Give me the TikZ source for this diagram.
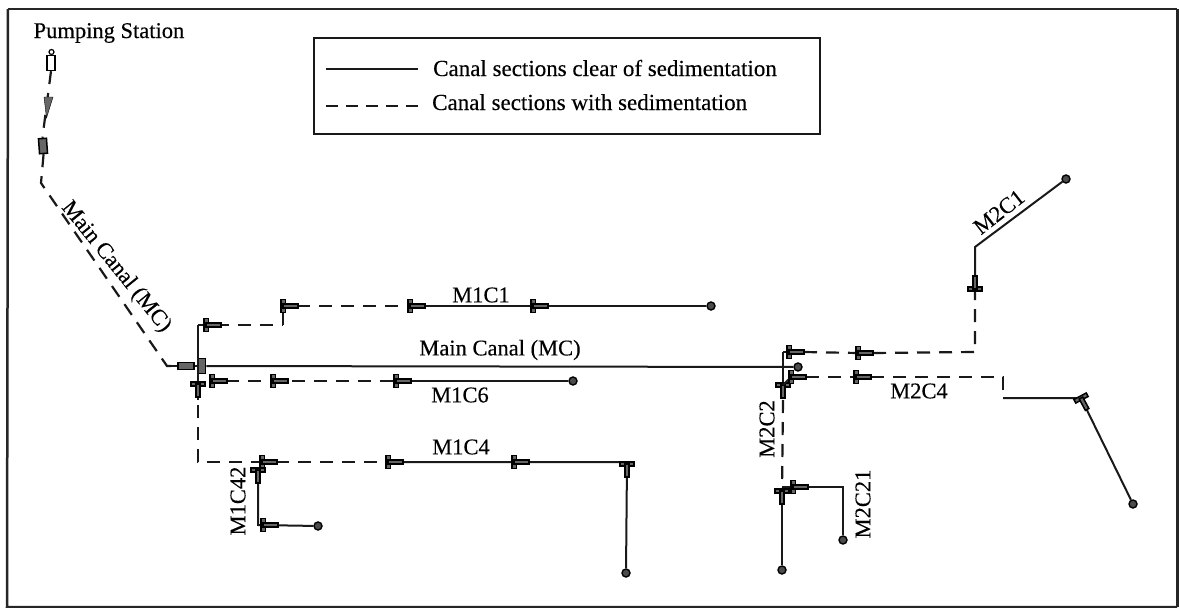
\documentclass[tikz,border=0pt]{standalone}
\usepackage{fontspec}
\setmainfont{Liberation Serif}
\usetikzlibrary{arrows.meta}
\tikzset{
 x=1pt,y=-1pt,
 clear/.style={line width=2pt,black!90,line cap=butt,line join=miter},
 sedi/.style={line width=2.2pt,black!90,dash pattern=on 13pt off 9pt,line join=miter},
 lab/.style={inner sep=0pt,font=\fontsize{22.5}{25}\selectfont\addfontfeature{FakeBold=0.3},text=black},
 legt/.style={inner sep=0pt,anchor=base west,font=\fontsize{23}{26}\selectfont\addfontfeature{FakeBold=0.3},text=black},
 enddot/.style={circle,fill=black!70,draw=black,line width=1.4pt,minimum size=8pt,inner sep=0pt},
 housing/.style={draw=black,line width=1.5pt,fill=black!60},
 gate/.pic={
  \filldraw[housing] (-2,-6.5) rectangle (2.5,6.5);
  \filldraw[housing] (0,-2) rectangle (15,2);
 },
 tgate/.pic={
  \filldraw[housing] (-2,-7) rectangle (2,7);
  \filldraw[housing] (0,-2) rectangle (13,2);
 }
}
\begin{document}
\begin{tikzpicture}
\useasboundingbox (0,0) rectangle (1179,608);
% frame
\draw[line width=2.5pt,black!85] (8,9) -- (1177,9);
\draw[line width=2.5pt,black!85] (8,9) -- (7,607) -- (1177,607);
\draw[line width=3pt,black!85] (1177,9) -- (1177,607);
% legend
\node[draw=black!90,line width=2.2pt,minimum width=506pt,minimum height=96pt,anchor=north west,inner sep=0pt] (legend) at (313,37) {};
\coordinate (la) at (326,69); \coordinate (lb) at (418,69);
\coordinate (lc) at (326,106); \coordinate (ld) at (418,106);
\draw[clear] (la) -- (lb);
\draw[sedi,dash pattern=on 12pt off 8pt] (lc) -- (ld);
\node[legt] (lt1) at (433,76) {Canal sections clear of sedimentation};
\node[legt] (lt2) at (432,110) {Canal sections with sedimentation};
% pumping station
\node[lab] (ps) at (109,33) {Pumping Station};
\node[draw=black,line width=1.2pt,minimum size=5pt,circle,inner sep=0pt] (pscirc) at (51.5,52) {};
\node[draw=black,line width=1.4pt,fill=white,minimum width=8pt,minimum height=15pt,inner sep=0pt] (psbox) at (51,63) {};
\coordinate (mc0) at (41,183); \coordinate (mc1) at (167,366);
\node[housing,minimum width=8pt,minimum height=15pt,inner sep=0pt,rotate=4] (mcg0) at (43,146) {};
\draw[sedi] (psbox.south) -- (mcg0.north);
\filldraw[fill=black!60,draw=black] (44,97) -- (53,97) -- (46.5,118) -- cycle;
\draw[sedi] (mcg0.south) -- (mc0) -- (mc1) -- (178,366);
\node[housing,minimum width=16pt,minimum height=7pt,inner sep=0pt] (mcg1) at (186,366) {};
\node[housing,minimum width=7pt,minimum height=15pt,inner sep=0pt] (mcg2) at (202,366) {};
\draw[clear] (mc1) -- (mcg1.west);
\draw[clear] (mcg1.east) -- (mcg2.west);
% main canal
\node[enddot] (mcend) at (798,367) {};
\draw[clear] (mcg2.east) -- (mcend);
\node[lab,rotate=-51] (lmc1) at (116,267) {Main Canal (MC)};
\node[lab] (lmc2) at (500,350) {Main Canal (MC)};
% M1C1
\coordinate (j1) at (198,366); \coordinate (a0) at (198,325); \coordinate (a1) at (206,325);
\coordinate (a2) at (283,325); \coordinate (a3) at (283,306); \coordinate (a4) at (410,306); \coordinate (a5) at (533,306);
\node[enddot] (a6) at (711,306) {};
\draw[clear] (a0) -- (j1); \draw[clear] (a0) -- (a1);
\draw[sedi] (a1) ++(10,0) -- (a2);
\draw[clear] (a2) -- (a3);
\draw[sedi] (a3) ++(14,0) -- (a4);
\draw[clear] (a4) -- (a5) -- (a6);
\foreach \p in {a1,a3,a4,a5}{\pic at (\p) {gate};}
\node[lab] (l1) at (481,295) {M1C1};
% M1C6
\coordinate (b0) at (198,384); \coordinate (b1) at (212,381); \coordinate (b2) at (273,381); \coordinate (b3) at (396,381);
\node[enddot] (b4) at (573,381) {};
\draw[clear] (j1) -- (b0);
\draw[sedi] (b1) ++(14,0) -- (b3);
\draw[clear] (b3) -- (b4);
\foreach \p in {b1,b2,b3}{\pic at (\p) {gate};}
\node[lab] (l2) at (460,395) {M1C6};
% M1C4
\coordinate (c0) at (198,462); \coordinate (c1) at (262,462); \coordinate (c2) at (388,462); \coordinate (c3) at (514,462); \coordinate (c4) at (627,464);
\node[enddot] (c5) at (626,573) {};
\draw[clear] (b0) -- (198,400);
\draw[sedi] (198,405) -- (c0) -- (c1);
\draw[sedi] (c1) ++(14,0) -- (c2);
\draw[clear] (c2) -- (627,462) -- (c5);
\pic[rotate=-90] at (b0) {tgate};
\pic at (c1) {gate}; \pic at (c2) {gate}; \pic at (c3) {gate};
\pic[rotate=-90] at (c4) {tgate};
\node[lab] (l3) at (461,447) {M1C4};
% M1C42
\coordinate (e0) at (258,470); \coordinate (e1) at (258,525); \coordinate (e2) at (263,525);
\node[enddot] (e3) at (318,526) {};
\draw[clear] (e0) -- (e1) -- (e3);
\pic[rotate=-90] at (e0) {tgate};
\pic at (e2) {gate};
\node[lab,rotate=90] (l4) at (238,501) {M1C42};
% M2C2
\coordinate (f0) at (783,352); \coordinate (f1) at (783,385); \coordinate (f2) at (782,491);
\node[enddot] (f3) at (782,570) {};
\draw[clear] (f0) -- (f1);
\draw[sedi] (783,400) -- (f2);
\draw[line width=2.6pt,black!90] (f2) -- (f3);
\pic[rotate=-90] at (f1) {tgate};
\pic[rotate=-90] at (f2) {tgate};
\node[lab,rotate=90] (l5) at (767,429) {M2C2};
% M2C21
\coordinate (h0) at (793,487); \coordinate (h1) at (843,487);
\node[enddot] (h2) at (843,540) {};
\coordinate (h00) at (782,487);
\draw[clear] (h00) -- (h0) -- (h1) -- (h2);
\pic at (h0) {gate};
\node[lab,rotate=90] (l6) at (863,504) {M2C21};
% M2C1
\coordinate (k0) at (789,352); \coordinate (k1) at (858,353); \coordinate (k2) at (975,352); \coordinate (k3) at (975,289); \coordinate (k4) at (975,247);
\node[enddot] (k5) at (1066,179) {};
\draw[clear] (f0) -- (k0);
\draw[sedi] (k0) ++(15,0) -- (k1);
\draw[sedi] (k1) ++(15,0) -- (k2) -- (k3);
\draw[clear] (k3) -- (k4) -- (k5);
\pic at (k0) {gate}; \pic at (k1) {gate};
\pic[rotate=90] at (k3) {tgate};
\node[lab,rotate=38] (l7) at (999,212) {M2C1};
% M2C4
\coordinate (m0) at (791,377); \coordinate (m1) at (856,377); \coordinate (m2) at (1003,377); \coordinate (m3) at (1003,398); \coordinate (m4) at (1081,398);
\node[enddot] (m5) at (1133,504) {};
\draw[clear] (f1) -- (m0);
\draw[sedi] (m0) ++(15,0) -- (m1);
\draw[sedi] (m1) ++(15,0) -- (m2) -- (m3);
\draw[clear] (m3) -- (m4) -- (m5);
\pic at (m0) {gate}; \pic at (m1) {gate};
\pic[rotate=-62] at (m4) {tgate};
\node[lab] (l8) at (919,391) {M2C4};
\end{tikzpicture}
\end{document}
